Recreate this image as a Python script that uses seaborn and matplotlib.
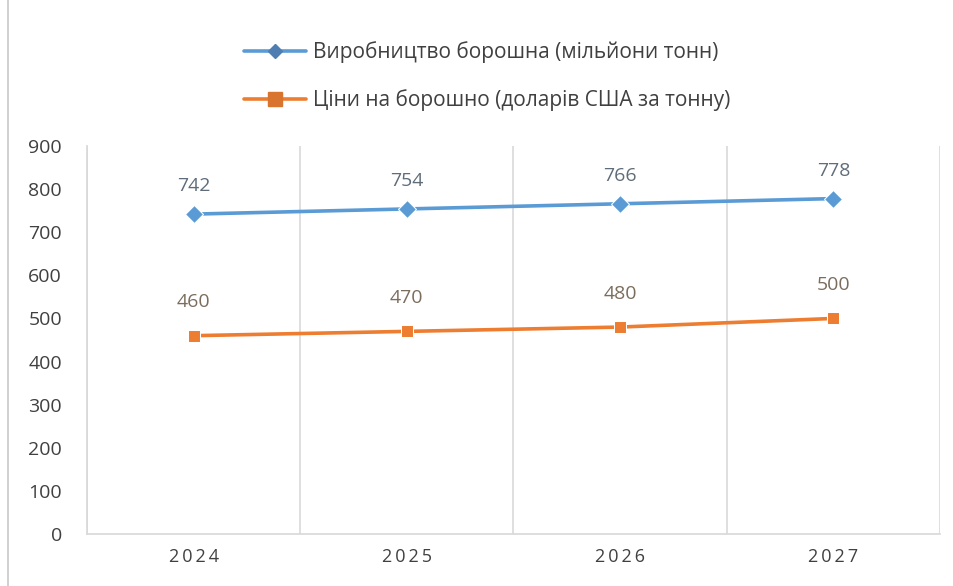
import pandas as pd
import seaborn as sns
from matplotlib import pyplot as plt
from matplotlib.lines import Line2D

# дані діаграми
years = ["2024", "2025", "2026", "2027"]
production = [742, 754, 766, 778]
prices = [460, 470, 480, 500]
name_prod = "Виробництво борошна (мільйони тонн)"
name_price = "Ціни на борошно (доларів США за тонну)"

sns.set_theme(style="white")
plt.rcParams["font.family"] = ["Open Sans", "DejaVu Sans"]

df = pd.DataFrame({
    "рік": list(range(len(years))) * 2,
    "значення": production + prices,
    "ряд": [name_prod] * len(years) + [name_price] * len(years),
})

colors = {name_prod: "#5b9bd5", name_price: "#ed7d31"}
markers = {name_prod: "D", name_price: "s"}

fig = plt.figure(figsize=(9.54, 5.86), dpi=100)
ax = fig.add_axes([87 / 954, 1 - 534 / 586, 853 / 954, 388 / 586])

sns.lineplot(data=df, x="рік", y="значення", hue="ряд", style="ряд",
             palette=colors, markers=markers, dashes=False,
             linewidth=2.6, markersize=9, ax=ax, legend=False)

ax.set_xlim(-0.5, len(years) - 0.5)
ax.set_ylim(0, 900)
ax.set_yticks(range(0, 901, 100))
ax.set_xticks(range(len(years)))
# рознесені цифри року, як у Excel
ax.set_xticklabels(["\u2009".join(y) for y in years])
ax.set_xlabel("")
ax.set_ylabel("")

# вертикальні лінії між категоріями
for b in range(len(years) + 1):
    ax.axvline(b - 0.5, color="#d9d9d9", linewidth=1.2, zorder=0)
for s in ["top", "right"]:
    ax.spines[s].set_visible(False)
for s in ["left", "bottom"]:
    ax.spines[s].set_color("#d9d9d9")

ax.tick_params(axis="y", labelsize=14, colors="#404040", length=0, pad=18)
ax.tick_params(axis="x", labelsize=13, colors="#404040", length=0, pad=10)

# підписи значень
for i, v in enumerate(production):
    ax.annotate(str(v), (i, v), xytext=(0, 20), textcoords="offset points",
                ha="center", va="center", fontsize=14, color="#5f6c79")
for i, v in enumerate(prices):
    ax.annotate(str(v), (i, v), xytext=(0, 24), textcoords="offset points",
                ha="center", va="center", fontsize=14, color="#7b6d5e")

# легенда у два рядки
handles = [
    Line2D([], [], color="#5b9bd5", linewidth=2.6, marker="D",
           markersize=7, markerfacecolor="#4f7eb3", markeredgecolor="#4f7eb3"),
    Line2D([], [], color="#ed7d31", linewidth=2.6, marker="s",
           markersize=10, markerfacecolor="#d9742f", markeredgecolor="#d9742f"),
]
leg = fig.legend(handles, [name_prod, name_price], loc="center",
                 bbox_to_anchor=(487 / 954, 1 - 76 / 586), ncol=1,
                 frameon=False, fontsize=15, handlelength=3.0,
                 handletextpad=0.3, labelspacing=1.25, borderaxespad=0)
for t in leg.get_texts():
    t.set_color("#404040")

# рамка скриншота ліворуч
fig.add_artist(Line2D([8 / 954, 8 / 954], [0, 1], color="#c8c8c8",
                      linewidth=1.2, transform=fig.transFigure))

fig.savefig("out.png", dpi=100)
